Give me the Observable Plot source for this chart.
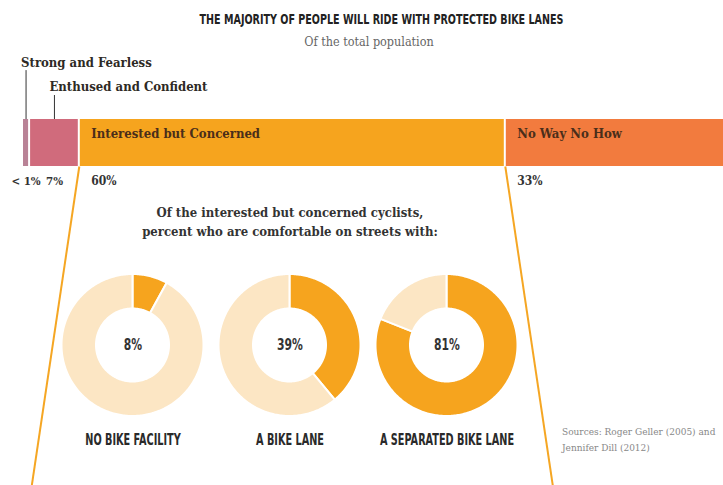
<!DOCTYPE html>
<html><head><meta charset="utf-8">
<script src="https://cdn.jsdelivr.net/npm/d3@7"></script>
<script src="https://cdn.jsdelivr.net/npm/@observablehq/plot@0.6"></script>
<style>
html,body{margin:0;padding:0;background:#fff;}
#chart{position:relative;width:723px;height:485px;overflow:hidden;background:#fff;}
.abs{position:absolute;white-space:nowrap;}
.narrow{font-family:"Liberation Sans Narrow","DejaVu Sans Condensed","Arial Narrow",sans-serif;font-weight:bold;}
.serif{font-family:"DejaVu Serif Condensed","DejaVu Serif",serif;}
.src{left:562px;font-size:10px;line-height:13px;color:#888;}
</style></head><body>
<div id="chart">
  <div class="abs" id="plotA" style="left:0;top:0"></div>
  <div class="abs" id="plotB" style="left:54px;top:266px"></div>
  <div class="abs narrow" style="left:20px;width:723px;top:10px;font-size:14px;line-height:18px;text-align:center;color:#222;transform:scaleX(0.76)">THE MAJORITY OF PEOPLE WILL RIDE WITH PROTECTED BIKE LANES</div>
  <div class="abs serif" style="left:0;width:738px;top:34px;font-size:12.5px;line-height:16px;text-align:center;color:#666">Of the total population</div>
  <div class="abs serif" style="left:0;width:580px;top:203px;font-size:13px;line-height:19px;text-align:center;color:#333;font-weight:bold">Of the interested but concerned cyclists,<br>percent who are comfortable on streets with:</div>
  <div class="abs serif src" style="top:425px">Sources: Roger Geller (2005) and</div>
  <div class="abs serif src" style="top:441px">Jennifer Dill (2012)</div>
</div>
<script>
// ---- Data ----
const segments = ["Strong and Fearless", "Enthused and Confident", "Interested but Concerned", "No Way No How"];
const shares = [1, 7, 60, 33];            // "< 1%" drawn as 1
const shareLabels = ["< 1%", "7%", "60%", "33%"];
const facilities = ["NO BIKE FACILITY", "A BIKE LANE", "A SEPARATED BIKE LANE"];
const comfortable = [8, 39, 81];
const comfortableLabels = ["8%", "39%", "81%"];

// ---- Styles ----
const segColors = ["#B98296", "#D06B7C", "#F6A41E", "#F27B3E"];
const donutColors = ["#F6A41E", "#FCE6C4"];
const serif = '"DejaVu Serif Condensed","DejaVu Serif",serif';
const narrow = '"Liberation Sans Narrow","DejaVu Sans Condensed","Arial Narrow",sans-serif';

// ---- Top stacked bar ----
const ends = d3.cumsum(shares);
const bar = segments.map((name, i) => ({
  name, label: shareLabels[i],
  x1: ends[i] - shares[i], x2: ends[i], mid: ends[i] - shares[i] / 2
}));
const bounds = [ends[1], ends[2]];

const plotA = Plot.plot({
  width: 723, height: 485, margin: 0,
  x: {domain: [0, 101], range: [22, 22 + 101 * 7.1], axis: null},
  y: {domain: [0, 1], range: [119, 166], axis: null},
  color: {domain: segments, range: segColors},
  style: {background: "transparent", fontFamily: serif},
  marks: [
    Plot.rect(bar, {x1: "x1", x2: "x2", y1: () => 0, y2: () => 1, fill: "name", insetLeft: 1, insetRight: 1}),
    Plot.link(bounds, {x1: d => d, x2: (d, i) => i ? d + 6.9 : d - 6.9, y1: () => 1, y2: () => 8, stroke: "#F5A623", strokeWidth: 2}),
    Plot.ruleX(bar.slice(0, 2), {x: "mid", y1: (d, i) => i ? -0.51 : -1.04, y2: () => 0, stroke: "#333", strokeWidth: 1}),
    Plot.text(bar.slice(0, 2), {x: "mid", y: (d, i) => i ? -0.70 : -1.21, text: "name", dx: -5, textAnchor: "start",
      fontFamily: serif, fontSize: 13, fontWeight: "bold", fill: "#2e2a25"}),
    Plot.text(bar.slice(2), {x: "x1", y: () => 0.30, text: "name", dx: 12, textAnchor: "start",
      fontFamily: serif, fontSize: 13, fontWeight: "bold", fill: "#4a2e1a"}),
    Plot.text(bar.slice(0, 2), {x: "mid", y: () => 1.32, text: "label",
      fontFamily: serif, fontSize: 11.5, fontWeight: "bold", fill: "#333"}),
    Plot.text(bar.slice(2), {x: "x1", y: () => 1.32, text: "label", dx: 12, textAnchor: "start",
      fontFamily: serif, fontSize: 12, fontWeight: "bold", fill: "#333"})
  ]
});
document.getElementById("plotA").append(plotA);

// ---- Donuts ----
const R = 1, r = 36.5 / 71;
const arcRows = [];
facilities.forEach((f, i) => {
  const v = comfortable[i] / 100;
  [["yes", 0, v], ["no", v, 1]].forEach(([part, a0, a1]) => {
    const n = Math.max(2, Math.ceil((a1 - a0) * 360));
    for (let k = 0; k <= n; k++) {
      const t = (a0 + (a1 - a0) * k / n) * 2 * Math.PI;
      arcRows.push({facility: f, part, ox: R * Math.sin(t), oy: R * Math.cos(t), ix: r * Math.sin(t), iy: r * Math.cos(t)});
    }
  });
});

const plotB = Plot.plot({
  width: 471, height: 200, margin: 0,
  fx: {domain: facilities, padding: 0, axis: null},
  x: {domain: [-78.5 / 71, 78.5 / 71], axis: null},
  y: {domain: [-121 / 71, 79 / 71], axis: null},
  color: {domain: ["yes", "no"], range: donutColors},
  style: {background: "transparent", overflow: "visible"},
  marks: [
    Plot.area(arcRows, {fx: "facility", x1: "ox", y1: "oy", x2: "ix", y2: "iy", z: d => d.facility + d.part,
      fill: "part", stroke: "white", strokeWidth: 2}),
    Plot.text(facilities, {fx: d => d, x: () => 0, y: () => 0, text: (d, i) => comfortableLabels[i],
      fontFamily: narrow, fontSize: 15, fontWeight: "bold", fill: "#333"}),
    Plot.text(facilities, {fx: d => d, x: () => 0, y: () => -1.34, text: d => d,
      fontFamily: narrow, fontSize: 15, fontWeight: "bold", fill: "#2a2a2a"})
  ]
});
document.getElementById("plotB").append(plotB);

// condense the poster-style labels (no condensed display font is installed)
plotB.querySelectorAll("text").forEach(t => {
  const w = t.getComputedTextLength();
  const k = t.textContent.endsWith("%") ? 0.8 : 0.72;
  t.setAttribute("textLength", w * k);
  t.setAttribute("lengthAdjust", "spacingAndGlyphs");
});
</script>
</body></html>
